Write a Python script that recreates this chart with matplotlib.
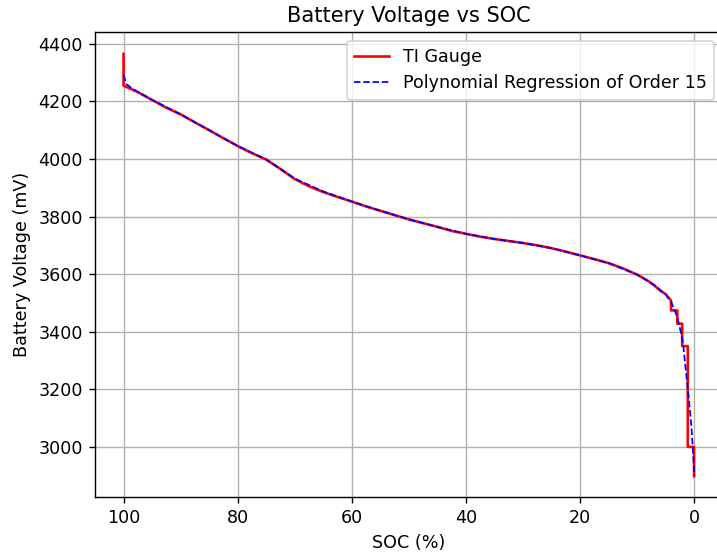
#!/usr/bin/env python3
import matplotlib
matplotlib.use("Agg")
import matplotlib.pyplot as plt

# TI gauge readings (SOC %, voltage mV)
gauge_soc = [100, 100, 97.5, 95, 92.5, 90, 87.5, 85, 82.5, 80, 77.5, 75, 72.5,
             70, 67.5, 65, 62.5, 60, 57.5, 55, 52.5, 50, 47.5, 45, 42.5, 40,
             37.5, 35, 32.5, 30, 27.5, 25, 22.5, 20, 17.5, 15, 12.5, 10, 8, 7,
             6, 5, 4.1, 4.1, 3.0, 3.0, 2.15, 2.15, 1.17, 1.17, 0.07, 0.07]
gauge_mv = [4365, 4255, 4232, 4205, 4178, 4155, 4127, 4100, 4072, 4045, 4020,
            3998, 3965, 3930, 3905, 3885, 3868, 3852, 3835, 3820, 3805, 3790,
            3777, 3764, 3750, 3740, 3730, 3722, 3715, 3708, 3700, 3690, 3678,
            3665, 3652, 3638, 3620, 3598, 3575, 3560, 3543, 3530, 3508, 3474,
            3474, 3428, 3428, 3350, 3350, 3000, 3000, 2898]

# polynomial fit curve
fit_soc = [100, 99.5, 98.5, 95, 90, 85, 80, 75, 70, 65, 60, 55, 50, 45, 40,
           35, 30, 25, 20, 15, 10, 7, 5, 4, 3, 2.45, 2, 1.28, 1, 0.53, 0]
fit_mv = [4292, 4260, 4245, 4205, 4155, 4100, 4045, 3998, 3932, 3887, 3852,
          3820, 3790, 3764, 3740, 3722, 3708, 3690, 3665, 3638, 3598, 3562,
          3528, 3500, 3450, 3404, 3360, 3222, 3170, 3071, 2900]

dpi = 126
fig = plt.figure(figsize=(717 / dpi, 552 / dpi), dpi=dpi)
# the reference is cropped on the right, so the axes runs past the edge
ax = fig.add_axes([95 / 717, 55 / 552, 628 / 717, 465 / 552])

ax.plot(gauge_soc, gauge_mv, color="red", label="TI Gauge")
ax.plot(fit_soc, fit_mv, "b--", linewidth=1, label="Polynomial Regression of Order 15")

ax.set_xlim(105, -5)
ax.set_ylim(2826, 4441)
ax.set_xticks([100, 80, 60, 40, 20, 0])
ax.set_yticks([3000, 3200, 3400, 3600, 3800, 4000, 4200, 4400])

ax.set_xlabel("SOC (%)")
ax.set_ylabel("Battery Voltage (mV)")
ax.set_title("Battery Voltage vs SOC")
ax.grid(True)
ax.legend(loc="upper right")

fig.savefig("out.png", dpi=dpi)
plt.close(fig)
